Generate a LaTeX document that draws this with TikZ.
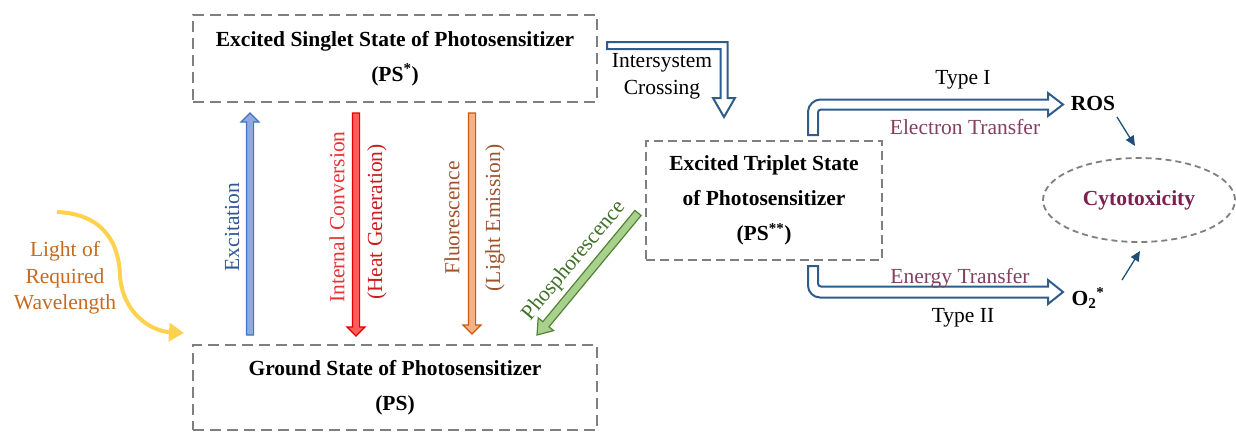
\documentclass[tikz,border=0pt]{standalone}
\usepackage{fontspec}
\setmainfont{Liberation Serif}
\usetikzlibrary{calc,arrows.meta,shapes.geometric}
\definecolor{boxgray}{HTML}{7F7F7F}
\definecolor{iscblue}{HTML}{2E5D8C}
\definecolor{darkblue}{HTML}{1F4E79}
\definecolor{excfill}{HTML}{8FAADC}
\definecolor{excdraw}{HTML}{4472C4}
\definecolor{exctext}{HTML}{2F5597}
\definecolor{icfill}{HTML}{FF5C5C}
\definecolor{icdraw}{HTML}{E00000}
\definecolor{ictext}{HTML}{E63333}
\definecolor{heattext}{HTML}{C81E1E}
\definecolor{flfill}{HTML}{F4B183}
\definecolor{fldraw}{HTML}{C55A11}
\definecolor{fltext}{HTML}{A0522D}
\definecolor{phfill}{HTML}{A9D18E}
\definecolor{phdraw}{HTML}{548235}
\definecolor{phtext}{HTML}{3E7027}
\definecolor{lighttext}{HTML}{C56A1E}
\definecolor{lightyellow}{HTML}{FFD24D}
\definecolor{transfertext}{HTML}{83405F}
\definecolor{cytotext}{HTML}{7B2150}
\newcommand{\fatarw}[6]{%
  \coordinate (fb) at ($(#2)!#5!(#1)$);
  \draw[#6] ($(#1)!#3!90:(#2)$) -- ($(fb)!#3!90:(#2)$) -- ($(fb)!#4!90:(#2)$) -- (#2)
    -- ($(fb)!#4!-90:(#2)$) -- ($(fb)!#3!-90:(#2)$) -- ($(#1)!#3!-90:(#2)$) -- cycle;}
\tikzset{
  every node/.style={font=\fontsize{21.5}{35}\selectfont, inner sep=0pt},
  bigbox/.style={draw=boxgray, line width=2pt, dash pattern=on 11pt off 6pt, align=center},
  tripbox/.style={draw=boxgray, line width=2pt, dash pattern=on 9pt off 5pt, align=center},
  hollow/.style={draw=iscblue, line width=2pt, fill=white, line join=miter},
  smallarrow/.style={draw=darkblue, line width=1.3pt, -{Triangle[length=10pt,width=9pt]}},
  plain/.style={align=center},
}
\begin{document}
\begin{tikzpicture}[x=1pt,y=-1pt]
\useasboundingbox (0,0) rectangle (1236,432);
% state boxes
\node[bigbox, minimum width=404pt, minimum height=87pt] (singlet) at (395,58.5)
  {\bfseries Excited Singlet State of Photosensitizer\\ \bfseries (PS\textsuperscript{*})};
\node[bigbox, minimum width=404pt, minimum height=85pt] (ground) at (395,387.5)
  {\bfseries Ground State of Photosensitizer\\ \bfseries (PS)};
\node[tripbox, minimum width=236pt, minimum height=119pt] (triplet) at (764,200.5)
  {\bfseries Excited Triplet State\\ \bfseries of Photosensitizer\\ \bfseries (PS\textsuperscript{**})};
% vertical fat arrows
\coordinate (exc-t) at (250,335); \coordinate (exc-h) at (250,113);
\coordinate (ic-t) at (356,113);  \coordinate (ic-h) at (356,336);
\coordinate (fl-t) at (472,113);  \coordinate (fl-h) at (472,334);
\coordinate (ph-t) at (638,213);  \coordinate (ph-h) at (537,335);
\fatarw{exc-t}{exc-h}{3.6pt}{9pt}{9pt}{fill=excfill, draw=excdraw, line width=1.2pt}
\fatarw{ic-t}{ic-h}{3.6pt}{9pt}{9pt}{fill=icfill, draw=icdraw, line width=1.2pt}
\fatarw{fl-t}{fl-h}{3.6pt}{9pt}{9pt}{fill=flfill, draw=fldraw, line width=1.2pt}
\fatarw{ph-t}{ph-h}{4pt}{10pt}{14pt}{fill=phfill, draw=phdraw, line width=1.2pt}
\node[rotate=90, text=exctext] (lexc) at (232,227) {Excitation};
\node[rotate=90, text=ictext] (lic) at (337,217) {Internal Conversion};
\node[rotate=90, text=heattext] (lheat) at (377,222) {(Heat Generation)};
\node[rotate=90, text=fltext] (lfl) at (452,218) {Fluorescence};
\node[rotate=90, text=fltext] (lle) at (495,218) {(Light Emission)};
\node[rotate=50, text=phtext] (lph) at (574,261) {Phosphorescence};
% light
\coordinate (l-s) at (57,212);
\coordinate (l-e) at (184,333);
\draw[lightyellow, line width=4pt, -{Triangle[length=15pt,width=18pt]}]
  (l-s) .. controls (105,214) and (119,245) .. (120,275)
  .. controls (122,312) and (150,331) .. (l-e);
\node[plain, text=lighttext, font=\fontsize{21.5}{26.5}\selectfont] (light) at (65,278)
  {Light of\\Required\\Wavelength};
% intersystem crossing
\draw[hollow] (607,42) -- (727.5,42) -- (727.5,98) -- (735,98) -- (724,117) -- (713,98)
  -- (720.5,98) -- (720.5,49) -- (607,49) -- cycle;
\node[plain, font=\fontsize{21.5}{27}\selectfont] (isc) at (662,76.5) {Intersystem\\Crossing};
% type I
\draw[hollow] (808,135) -- (808,111.5) .. controls (808,104.9) and (814.6,99.5) .. (820,99.5)
  -- (1048,99.5) -- (1048,93) -- (1063,104.5) -- (1048,116) -- (1048,109.5) -- (821,109.5)
  .. controls (819.3,109.5) and (818,110.8) .. (818,112.5) -- (818,135) -- cycle;
% type II
\draw[hollow] (808,266) -- (808,285.5) .. controls (808,292.1) and (813.4,297.5) .. (820,297.5)
  -- (1048,297.5) -- (1048,304) -- (1063,292) -- (1048,280) -- (1048,286.5) -- (821,286.5)
  .. controls (819.3,286.5) and (818,285.2) .. (818,283.5) -- (818,266) -- cycle;
\node (t1) at (963,80) {Type I};
\node[text=transfertext] (et) at (965,127) {Electron Transfer};
\node[text=transfertext] (ent) at (960,278) {Energy Transfer};
\node (t2) at (963,318) {Type II};
\node (ros) at (1093,103) {\bfseries ROS};
\node (o2) at (1088,298) {\bfseries O\textsubscript{2}\textsuperscript{*}};
\node[ellipse, draw=boxgray, line width=1.8pt, dash pattern=on 6pt off 4pt,
  minimum width=192pt, minimum height=84pt, text=cytotext] (cyto) at (1139,200) {\bfseries Cytotoxicity};
\coordinate (r1) at (1117,117); \coordinate (r2) at (1135,146);
\coordinate (o1) at (1122,280); \coordinate (o2e) at (1140,251);
\draw[smallarrow] (r1) -- (r2);
\draw[smallarrow] (o1) -- (o2e);
\end{tikzpicture}
\end{document}
